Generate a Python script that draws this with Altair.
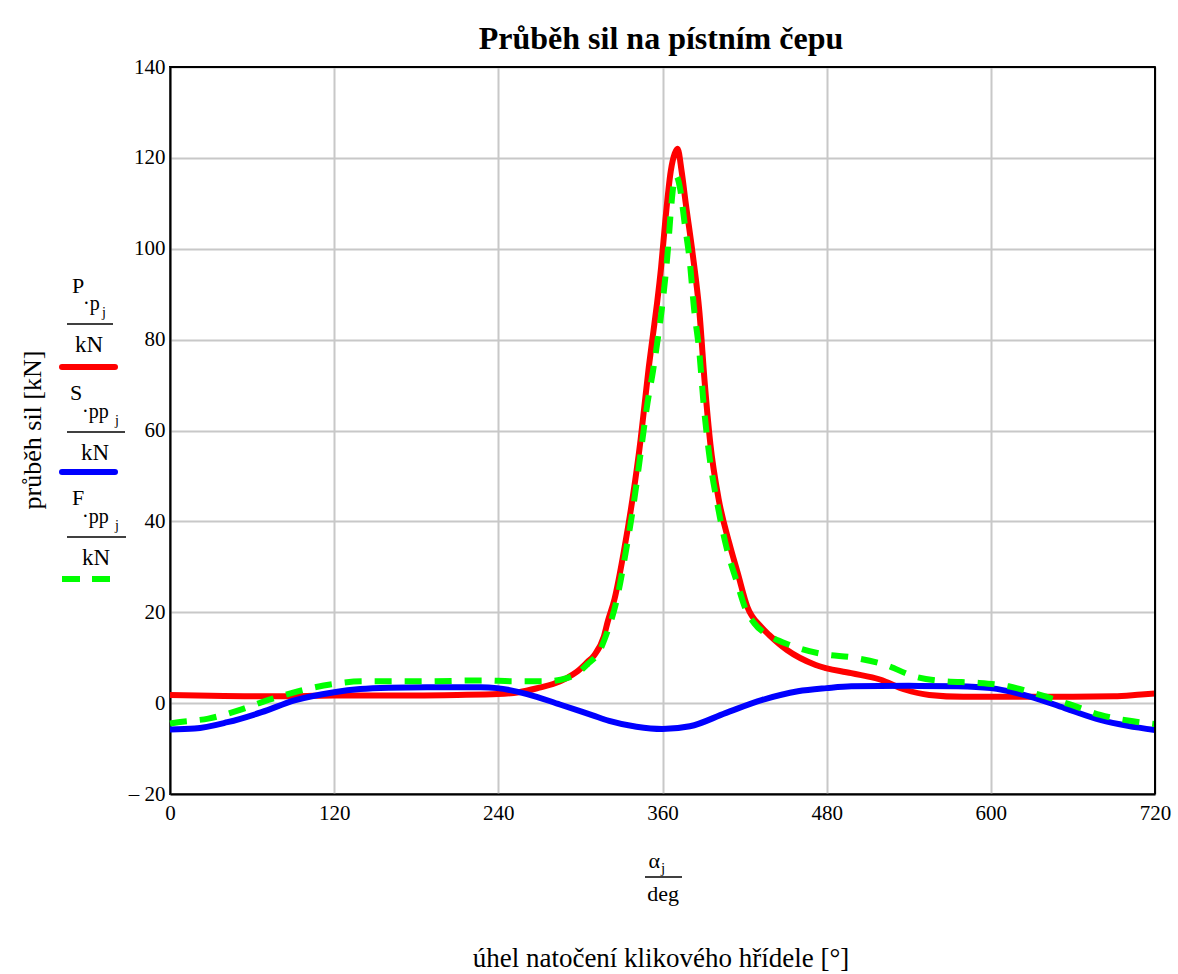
import altair as alt
import pandas as pd

# ---- data ----
deg_P = [0, 30, 60, 90, 120, 150, 180, 210, 240, 255, 270, 280, 290, 297, 305, 310, 317, 320, 325,
         332, 338, 344, 347, 350, 353, 356, 359, 362, 366, 369, 371, 374, 377, 382, 387, 391, 395,
         401, 409, 415, 422, 432, 438, 451, 472, 498, 519, 537, 555, 580, 620, 660, 690, 710, 720]
val_P = [1.8, 1.6, 1.5, 1.5, 1.7, 1.7, 1.7, 1.8, 2.0, 2.4, 3.4, 4.2, 5.5, 6.8, 9.0, 10.5, 14.5, 18.0, 23.0,
         33.8, 44.8, 58.0, 66.0, 74.0, 81.0, 88.0, 96.0, 106.0, 117.0, 121.0, 122.0, 117.0, 110.0, 99.0, 86.0, 70.0, 57.0,
         45.0, 35.0, 28.6, 21.2, 16.8, 15.0, 11.7, 8.4, 6.6, 5.2, 3.0, 1.8, 1.4, 1.4, 1.4, 1.5, 1.9, 2.1]

deg_S = [0, 18, 42, 67, 91, 120, 139, 160, 188, 227, 239, 261, 285, 309, 321, 341, 360, 380,
         406, 433, 459, 480, 498, 540, 576, 600, 628, 654, 680, 700, 720]
val_S = [-5.8, -5.6, -4.2, -2.0, 0.6, 2.4, 3.1, 3.4, 3.5, 3.5, 3.3, 2.0, -0.3, -2.7, -3.9, -5.2, -5.7, -5.1,
         -2.2, 0.7, 2.6, 3.3, 3.7, 3.8, 3.7, 3.3, 1.5, -1.1, -3.7, -5.0, -5.9]

deg_F = [0, 6, 28, 50, 72, 96, 119, 141, 185, 229, 251, 275, 290, 297, 305, 314, 320, 326, 333, 339,
         344, 349, 353, 356, 360, 364, 366, 368, 370, 373, 376, 380, 383, 387, 390, 394, 400, 407,
         414, 421, 427, 440, 453, 477, 500, 523, 544, 567, 589, 613, 636, 659, 680, 704, 720]
val_F = [-4.5, -4.2, -3.4, -1.6, 0.7, 2.8, 4.2, 4.8, 4.8, 5.0, 4.8, 4.8, 5.5, 6.4, 8.5, 11.5, 16.0, 22.0, 33.0, 44.0,
         55.0, 66.0, 73.0, 79.0, 88.0, 100.0, 108.0, 114.0, 116.0, 113.0, 106.0, 97.0, 87.0, 77.0, 66.0, 55.0, 44.0, 34.0,
         27.0, 20.5, 17.6, 14.5, 12.8, 10.8, 10.0, 8.4, 5.9, 4.8, 4.5, 3.7, 1.8, -0.4, -2.6, -4.0, -4.6]

x_ticks = [0, 120, 240, 360, 480, 600, 720]
y_ticks = [-20, 0, 20, 40, 60, 80, 100, 120, 140]

title_text = "Průběh sil na pístním čepu"
y_title = "průběh sil [kN]"
x_title = "úhel natočení klikového hřídele [°]"

W, H = 985, 727
SERIF = "Liberation Serif"

dfP = pd.DataFrame({"deg": deg_P, "val": val_P})
dfS = pd.DataFrame({"deg": deg_S, "val": val_S})
dfF = pd.DataFrame({"deg": deg_F, "val": val_F})

xs = alt.Scale(domain=[0, 720], nice=False, zero=False)
ys = alt.Scale(domain=[-20, 140], nice=False, zero=False)

xaxis = alt.Axis(values=x_ticks, title=None, grid=True, ticks=False, labelPadding=8,
                 labelFont=SERIF, labelFontSize=21, labelColor="black",
                 domainColor="black", domainWidth=2, gridColor="#C8C8C8", gridWidth=2,
                 labelFlush=False)
yaxis = alt.Axis(values=y_ticks, title=None, grid=True, ticks=False, labelPadding=5,
                 labelFont=SERIF, labelFontSize=21, labelColor="black",
                 domainColor="black", domainWidth=2, gridColor="#C8C8C8", gridWidth=2,
                 labelExpr="datum.value < 0 ? '\u2013 ' + abs(datum.value) : datum.label")


def line(df, color, dash=None):
    kw = dict(color=color, strokeWidth=6, interpolate="monotone", strokeCap="butt")
    if dash:
        kw["strokeDash"] = dash
    return alt.Chart(df).mark_line(**kw).encode(
        x=alt.X("deg:Q", scale=xs, axis=xaxis),
        y=alt.Y("val:Q", scale=ys, axis=yaxis),
    )


one = pd.DataFrame({"a": [0]})


def txt(s, x, y, size=20, bold=False, align="left", angle=0, baseline="alphabetic"):
    kw = dict(text=s, font=SERIF, fontSize=size, color="black", align=align, baseline=baseline)
    if bold:
        kw["fontWeight"] = "bold"
    if angle:
        kw["angle"] = angle
    return alt.Chart(one).mark_text(**kw).encode(x=alt.value(x), y=alt.value(y))


def rule(x1, x2, y, color="black", width=1.5, dash=None, cap="butt"):
    kw = dict(color=color, strokeWidth=width, strokeCap=cap)
    if dash:
        kw["strokeDash"] = dash
    return alt.Chart(one).mark_rule(**kw).encode(x=alt.value(x1), x2=alt.value(x2), y=alt.value(y))


frame_top = rule(0, W, 0, width=2)
frame_right = alt.Chart(one).mark_rule(color="black", strokeWidth=2).encode(
    x=alt.value(W), y=alt.value(0), y2=alt.value(H))

layers = [
    line(dfP, "#FF0000"),
    line(dfS, "#0000FF"),
    line(dfF, "#00FF00", dash=[17, 13]),
    frame_top, frame_right,
    # title
    txt(title_text, 491, -18, size=32, bold=True, align="center"),
    # y title
    txt(y_title, -137, 363, size=26, align="center", angle=270, baseline="middle"),
    # x fraction
    txt("\u03b1", 490, 801, size=22, align="right"),
    txt("j", 491, 806, size=15),
    rule(475, 512, 810),
    txt("deg", 493, 834, size=22, align="center"),
    txt(x_title, 491, 900, size=27, align="center"),
    # legend P
    txt("P", -98, 226, size=22),
    txt("\u00b7p", -87, 243, size=20),
    txt("j", -68, 250, size=14),
    rule(-103, -57, 257),
    txt("kN", -81, 285, size=23, align="center"),
    rule(-108, -55, 300, color="#FF0000", width=6, cap="round"),
    # legend S
    txt("S", -100, 333, size=22),
    txt("\u00b7pp", -88, 351, size=20),
    txt("j", -55, 358, size=14),
    rule(-103, -45, 365),
    txt("kN", -75, 393, size=23, align="center"),
    rule(-108, -55, 405, color="#0000FF", width=6, cap="round"),
    # legend F
    txt("F", -98, 438, size=22),
    txt("\u00b7pp", -88, 456, size=20),
    txt("j", -55, 463, size=14),
    rule(-103, -44, 470),
    txt("kN", -74, 498, size=23, align="center"),
    rule(-108, -59, 512, color="#00FF00", width=6, dash=[18, 12]),
]

chart = alt.layer(*layers).properties(
    width=W, height=H,
    autosize=alt.AutoSizeParams(type="none"),
    padding={"left": 170, "top": 67, "right": 23, "bottom": 180},
    background="white",
).configure_view(stroke="black", strokeWidth=2)

chart.save("out.html", embed_options={"renderer": "svg", "actions": False})
